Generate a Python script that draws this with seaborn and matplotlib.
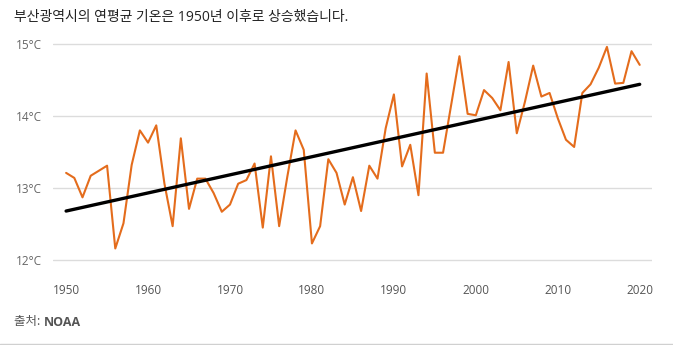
import numpy as np
import pandas as pd
import matplotlib
matplotlib.use("Agg")
import matplotlib.pyplot as plt
from matplotlib.lines import Line2D
import seaborn as sns

years = list(range(1950, 2021))
temps = [13.21, 13.14, 12.87, 13.17, 13.24, 13.31, 12.16, 12.51, 13.32, 13.80,
         13.63, 13.87, 13.06, 12.47, 13.69, 12.71, 13.13, 13.13, 12.93, 12.67,
         12.77, 13.06, 13.11, 13.34, 12.45, 13.44, 12.47, 13.16, 13.80, 13.53,
         12.23, 12.47, 13.40, 13.21, 12.77, 13.15, 12.68, 13.31, 13.13, 13.83,
         14.30, 13.30, 13.60, 12.90, 14.59, 13.49, 13.49, 14.16, 14.83, 14.03,
         14.01, 14.36, 14.25, 14.08, 14.75, 13.76, 14.20, 14.70, 14.27, 14.32,
         13.97, 13.67, 13.57, 14.32, 14.44, 14.67, 14.96, 14.45, 14.46, 14.90,
         14.71]
trend_years = [1950, 2020]
trend_vals = [12.68, 14.44]
x_ticks = [1950, 1960, 1970, 1980, 1990, 2000, 2010, 2020]
y_ticks = [12, 13, 14, 15]
y_labels = ["12°C", "13°C", "14°C", "15°C"]
title = "부산광역시의 연평균 기온은 1950년 이후로 상승했습니다."
source_label = "출처: "
source_name = "NOAA"

sns.set_theme(style="white")
plt.rcParams['font.family'] = ['Open Sans', 'Noto Sans CJK KR', 'DejaVu Sans']

df = pd.DataFrame({"year": years, "temp": temps})
tdf = pd.DataFrame({"year": trend_years, "temp": trend_vals})

fig = plt.figure(figsize=(6.73, 3.45), dpi=100)
ax = fig.add_axes([53/673, 1 - 267.2/345, (652-53)/673, (267.2-36.8)/345])

sns.lineplot(data=df, x="year", y="temp", ax=ax, color="#E46C1C", linewidth=1.5)
sns.lineplot(data=tdf, x="year", y="temp", ax=ax, color="black", linewidth=2.4)

ax.set_xlim(1948.4, 2021.5)
ax.set_ylim(11.9, 15.1)
ax.set_yticks(y_ticks)
ax.set_yticklabels(y_labels)
ax.set_xticks(x_ticks)
ax.set_xticklabels([str(v) for v in x_ticks])
ax.set_xlabel("")
ax.set_ylabel("")
for s in ax.spines.values():
    s.set_visible(False)
ax.grid(axis="y", color="#dcdcdc", linewidth=1.0)
ax.grid(axis="x", visible=False)
ax.set_axisbelow(True)
ax.tick_params(axis="y", length=0, pad=8, labelsize=8.5, labelcolor="#666666")
ax.tick_params(axis="x", length=0, pad=12, labelsize=8.5, labelcolor="#555555")

fig.text(14/673, 1 - 18/345, title, fontsize=10, color="#222222", va="center", ha="left")
t1 = fig.text(14/673, 1 - 322/345, source_label, fontsize=9, color="#555555", va="center", ha="left")
fig.canvas.draw()
bb = t1.get_window_extent()
fig.text(bb.x1 / fig.bbox.width, 1 - 322/345, source_name, fontsize=9, color="#555555",
         va="center", ha="left", fontweight="bold")

fig.add_artist(Line2D([0, 1], [1/345, 1/345], transform=fig.transFigure, color="#d0d0d0", linewidth=1.0))

fig.savefig("out.png", dpi=100)
